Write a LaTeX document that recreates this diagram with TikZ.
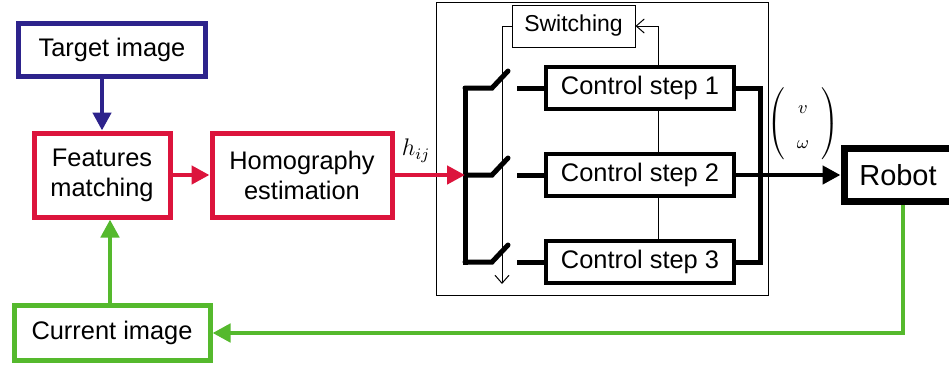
\documentclass[tikz,border=0pt]{standalone}
\usepackage{fontspec}
\setmainfont{Liberation Sans}
\usetikzlibrary{arrows.meta}

\definecolor{imgblue}{RGB}{45,35,140}
\definecolor{procred}{RGB}{220,20,60}
\definecolor{loopgreen}{RGB}{85,185,45}

\tikzset{
    block/.style={draw, line width=2.5pt, inner sep=0pt, align=center,
        font=\fontsize{12.7}{15}\selectfont},
    ctrlbox/.style={block, line width=2.2pt, minimum width=94pt, minimum height=21pt},
    thinbox/.style={draw, line width=0.5pt, inner sep=0pt,
        font=\fontsize{11.5}{13}\selectfont},
    fatarrow/.style={line width=2.3pt, -{Triangle[length=9pt,width=9pt]}},
    wire/.style={line width=2.5pt},
    signal/.style={line width=0.5pt},
}

\begin{document}
\begin{tikzpicture}[x=0.5pt,y=-0.5pt]
    \useasboundingbox (0,0) rectangle (949,365);
    % image processing side
    \node[block, draw=imgblue, minimum width=93.5pt, minimum height=26.5pt] (target) at (112,50) {Target image};
    \node[block, draw=procred, minimum width=68pt, minimum height=42pt] (feat) at (102,175) {Features\\matching};
    \node[block, draw=procred, minimum width=90pt, minimum height=42pt] (homo) at (302,175) {Homography\\estimation};
    \node[block, draw=loopgreen, minimum width=98pt, minimum height=27.5pt] (current) at (112,333) {Current image};

    \draw[fatarrow, imgblue] (target.south -| feat.north) -- (feat.north);
    \draw[fatarrow, procred] (feat) -- (homo);
    \draw[fatarrow, loopgreen] (current.north -| 110,0) -- (feat.south -| 110,0);

    % switched controller
    \draw[signal] (436,2) rectangle (768,295);
    \node[thinbox, minimum width=61.5pt, minimum height=21pt] (switch) at (573.5,26) {Switching};
    \foreach \k/\y in {1/88,2/175,3/262} {
        \node[ctrlbox] (cs\k) at (640,\y) {Control step \k};
        \draw[wire, line cap=round] (465,\y) -- (492,\y) -- (508,{\y-17});
        \draw[wire] (517,\y) -- (cs\k.west);
    }
    \coordinate (bus) at (465,175);
    \draw[wire, line cap=rect] (465,88) -- (465,262);
    \draw[fatarrow, procred] (homo) -- (bus);
    \node[font=\large] (hij) at (416,151) {$h_{ij}$};
    \draw[signal, -{Straight Barb[length=4pt,width=7pt]}] (switch.west) -- (502,26) -- (502,284);
    \draw[signal, -{Straight Barb[length=4pt,width=7pt]}] (cs1.north -| 658,0) |- (switch.east);
    \draw[signal] (cs1.south -| 658,0) -- (cs2.north -| 658,0);
    \draw[signal] (cs2.south -| 658,0) -- (cs3.north -| 658,0);
    \draw[wire] (cs1.east) -| (760,175) |- (cs3.east);

    % robot and feedback
    \node[block, line width=3.5pt, minimum width=54pt, minimum height=26.5pt,
        font=\fontsize{14.5}{17}\selectfont] (robot) at (898,175) {Robot};
    \draw[fatarrow] (cs2.east) -- (robot.west);
    \node[font=\fontsize{12.7}{15}\selectfont, inner sep=0pt] (vel) at (803,124)
        {\renewcommand\arraystretch{1.15}\setlength\arraycolsep{6pt}%
        $\left(\begin{array}{c} \scriptstyle v\\ \scriptstyle\omega \end{array}\right)$};
    \draw[line width=2.3pt, loopgreen, -{Triangle[length=9pt,width=9pt]}] (robot.south -| 903,0) |- (current.east);
\end{tikzpicture}
\end{document}
